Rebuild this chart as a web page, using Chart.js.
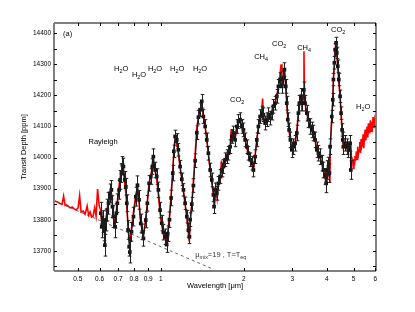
<!DOCTYPE html>
<html>
<head>
<meta charset="utf-8">
<script src="https://cdn.jsdelivr.net/npm/chart.js@4.4.1/dist/chart.umd.min.js"></script>
<style>
html, body { margin: 0; padding: 0; background: #fff; }
#grafico { display: block; }
</style>
</head>
<body>
<canvas id="grafico" width="415" height="312"></canvas>
<script>
// observed spectrum (black squares with error bars)
const wavelength = [0.606,0.611,0.618,0.623,0.627,0.632,0.640,0.646,0.655,0.662,0.668,0.673,0.683,0.690,0.696,0.706,0.712,0.720,0.726,0.732,0.741,0.747,0.753,0.761,0.768,0.772,
  0.783,0.796,0.812,0.823,0.834,0.846,0.858,0.865,0.882,0.894,0.907,0.920,0.932,0.940,0.954,0.967,0.980,0.994,
  1.008,1.022,1.037,1.050,1.060,1.075,1.090,1.105,1.115,1.127,1.143,1.158,1.175,1.192,1.208,1.225,1.243,1.259,1.270,1.277,1.295,1.313,1.332,1.351,1.369,1.388,1.408,
  1.427,1.448,1.468,1.488,1.510,1.531,1.552,1.560,1.574,1.596,1.618,1.641,1.664,1.687,1.711,1.735,1.759,1.784,1.809,1.833,1.860,1.886,1.912,1.939,1.967,1.993,
  2.022,2.051,2.078,2.108,2.138,2.167,2.198,2.229,2.259,2.291,2.324,2.355,2.389,2.423,2.456,2.491,2.527,2.561,2.597,2.634,2.670,2.708,2.746,2.783,2.807,2.839,2.863,2.887,2.919,2.951,2.985,
  3.026,3.069,3.113,3.155,3.181,3.227,3.262,3.300,3.336,3.384,3.430,3.478,3.528,3.576,3.627,3.679,3.728,3.782,3.836,3.888,3.943,3.977,
  4.000,4.054,4.087,4.111,4.169,4.204,4.225,4.260,4.286,4.321,4.346,4.383,4.420,4.468,4.505,4.544,4.570,4.593,4.658,4.726,4.789,4.858,4.886];
const depth = [13821,13777,13794,13767,13718,13799,13831,13853,13885,13896,13842,13810,13777,13821,13853,13896,13928,13950,13976,13971,13928,13906,13853,13767,13713,13696,
  13761,13810,13874,13911,13864,13788,13761,13740,13799,13853,13917,13939,13971,14003,13960,13939,13896,13831,
  13789,13760,13745,13720,13755,13800,13870,13950,14020,14068,14057,14025,13971,13930,13896,13853,13810,13766,13745,13800,13850,13910,13990,14080,14130,14154,14181,
  14132,14100,14057,14014,13960,13928,13880,13842,13896,13885,13917,13939,13960,13971,13993,14003,14014,14035,14068,14079,14057,14100,14116,14122,14100,14089,
  14057,14035,14014,13993,13982,13960,14003,14057,14100,14132,14143,14138,14111,14122,14138,14127,14143,14165,14175,14197,14229,14251,14229,14256,14283,14229,14175,14122,14089,14057,14025,
  14035,14046,14079,14143,14175,14197,14175,14218,14175,14143,14122,14100,14089,14079,14057,14025,14014,14003,13982,13960,13939,13917,
  13960,13971,13950,14035,14132,14186,14251,14305,14347,14369,14337,14294,14251,14197,14143,14089,14057,14035,14046,14035,14025,14046,13960];
const depthErr = [35,35,35,35,35,35,35,35,30,30,35,35,35,30,30,30,30,30,27,27,27,27,27,30,30,35,
  30,30,30,30,30,30,25,25,25,25,25,25,25,25,25,25,25,25,
  25,25,25,25,25,25,25,25,20,20,20,20,20,20,20,20,20,22,22,22,22,22,22,22,22,22,22,
  22,22,22,22,22,22,22,22,22,22,22,22,22,22,22,22,22,22,22,22,22,22,22,22,22,22,
  22,22,22,22,22,22,22,22,22,22,22,22,22,22,22,22,22,22,22,22,22,22,22,22,22,22,22,22,22,25,25,
  25,25,25,25,25,25,25,25,25,25,25,25,25,25,25,25,25,25,25,25,25,30,
  30,30,30,25,20,20,20,20,20,18,18,20,20,20,20,20,25,25,25,25,25,25,30];

// model spectrum (red)
const modelWavelength = [0.410,0.417,0.424,0.431,0.4386,0.4442,0.4498,0.455,0.4612,0.469,0.4769,0.485,0.4931,0.5014,0.5078,0.5141,0.5229,0.5316,0.5406,0.5474,0.5543,0.5613,0.5683,0.5754,0.5826,0.5899,0.5974,
  0.605,0.612,0.618,0.625,0.632,0.640,0.648,0.656,0.664,0.670,0.677,0.684,0.692,0.700,0.708,0.716,0.724,0.732,0.740,0.748,0.756,0.764,0.772,0.780,0.790,0.800,0.812,0.822,0.832,0.843,0.855,0.865,0.875,0.888,0.900,0.912,0.924,0.934,0.945,0.955,0.968,0.980,0.992,
  1.005,1.020,1.035,1.048,1.060,1.075,1.090,1.105,1.117,1.128,1.140,1.155,1.172,1.190,1.208,1.225,1.243,1.258,1.268,1.280,1.295,1.312,1.330,1.350,1.368,1.388,1.405,1.425,1.447,1.468,1.488,
  1.510,1.530,1.552,1.570,1.585,1.600,1.618,1.640,1.660,1.672,1.690,1.712,1.735,1.760,1.785,1.800,1.810,1.835,1.860,1.885,1.910,1.940,1.965,1.995,
  2.020,2.050,2.080,2.110,2.140,2.168,2.200,2.230,2.260,2.290,2.320,2.340,2.355,2.390,2.420,2.455,2.490,2.525,2.560,2.600,2.635,2.670,2.700,2.730,2.750,2.785,2.808,2.840,2.865,2.890,2.920,2.950,2.985,
  3.025,3.070,3.110,3.150,3.180,3.225,3.250,3.262,3.290,3.305,3.320,3.340,3.385,3.430,3.480,3.530,3.575,3.625,3.680,3.730,3.780,3.835,3.890,3.940,3.980,
  4.000,4.050,4.085,4.105,4.115,4.170,4.205,4.225,4.260,4.290,4.320,4.345,4.385,4.420,4.470,4.505,4.545,4.570,4.595,4.660,4.725,4.790,4.860,4.920,
  4.960,4.992,5.015,5.040,5.064,5.090,5.120,5.150,5.175,5.205,5.236,5.265,5.300,5.325,5.355,5.390,5.415,5.445,5.480,5.507,5.540,5.575,5.598,5.630,5.660,5.692,5.725,5.755,5.788,5.820,5.855,5.886,5.915,5.950,5.984,6.030];
const modelDepth = [13861,13859,13856,13852,13850,13876,13846,13848,13844,13838,13841,13835,13831,13838,13877,13825,13828,13818,13844,13815,13825,13809,13812,13838,13812,13899,13847,
  13830,13790,13810,13760,13800,13840,13860,13890,13880,13830,13790,13800,13840,13880,13920,13950,13965,13955,13920,13880,13820,13760,13730,13760,13800,13840,13880,13905,13870,13800,13770,13755,13780,13830,13890,13930,13950,13990,13980,13955,13925,13880,13830,
  13790,13755,13740,13730,13760,13810,13880,13960,14030,14060,14050,14020,13975,13935,13890,13850,13805,13760,13730,13790,13850,13920,14000,14090,14130,14150,14170,14140,14100,14060,14010,
  13960,13920,13880,13860,13900,13870,13920,13930,13990,13950,13975,13990,14010,14010,14040,14090,14060,14080,14060,14100,14110,14120,14100,14080,
  14060,14030,14010,13990,13975,13960,14010,14060,14100,14130,14150,14190,14130,14110,14125,14140,14130,14150,14170,14180,14200,14230,14260,14300,14235,14260,14285,14225,14170,14120,14085,14055,14030,
  14035,14050,14080,14140,14170,14195,14150,14170,14200,14342,14190,14170,14140,14120,14100,14090,14075,14055,14025,14010,14000,13980,13955,13935,13915,
  13950,13960,13935,13930,14020,14130,14190,14250,14300,14350,14375,14340,14290,14245,14195,14140,14085,14055,14030,14040,14030,14020,14040,14000,
  13990,13965,13995,13975,14005,13990,14020,13995,14035,14010,14025,14050,14015,14060,14035,14045,14075,14030,14070,14090,14055,14085,14100,14065,14110,14080,14095,14120,14085,14115,14100,14130,14095,14120,14105,14125];

// Rayleigh slope reference (dashed)
const rayleighWavelength = [0.41, 1.52];
const rayleighDepth = [13861, 13644];

// axes
const wavelengthTicks = [0.5, 0.6, 0.7, 0.8, 0.9, 1, 2, 3, 4, 5, 6];
const depthTicks = [13700, 13800, 13900, 14000, 14100, 14200, 14300, 14400];

// molecule labels, anchored in data units
const speciesNames = ['H2O', 'H2O', 'H2O', 'H2O', 'H2O', 'CO2', 'CH4', 'CO2', 'CH4', 'CO2', 'H2O'];
const speciesWavelength = [0.718, 0.834, 0.953, 1.146, 1.388, 1.891, 2.310, 2.685, 3.309, 4.395, 5.415];
const speciesDepth = [14286, 14267, 14286, 14286, 14286, 14186, 14325, 14367, 14354, 14412, 14164];

const fonte = '"Liberation Sans", Arial, Helvetica, sans-serif';

function pares(xs, ys) {
    return xs.map((x, i) => ({ x: x, y: ys[i] }));
}

// draws text where digits (or given parts) are subscripts
function textoQuimico(ctx, partes, x, y, align, size) {
    let largura = 0;
    partes.forEach(p => {
        ctx.font = (p.sub ? size * 0.72 : size) + 'px ' + fonte;
        largura += ctx.measureText(p.t).width;
    });
    let cx = align === 'center' ? x - largura / 2 : x;
    ctx.textAlign = 'left';
    ctx.textBaseline = 'middle';
    partes.forEach(p => {
        ctx.font = (p.sub ? size * 0.72 : size) + 'px ' + fonte;
        ctx.fillText(p.t, cx, p.sub ? y + size * 0.38 : y);
        cx += ctx.measureText(p.t).width;
    });
}

function formula(nome) {
    return nome.split('').map(c => ({ t: c, sub: /[0-9]/.test(c) }));
}

const molduraPlugin = {
    id: 'moldura',
    afterDatasetsDraw(chart) {
        const ctx = chart.ctx;
        const xs = chart.scales.x, ys = chart.scales.y;
        ctx.save();
        ctx.strokeStyle = '#1e1e1e';
        ctx.lineWidth = 1;
        wavelength.forEach((w, i) => {
            const px = Math.round(xs.getPixelForValue(w)) + 0.5;
            const yTop = ys.getPixelForValue(depth[i] + depthErr[i]);
            const yBot = ys.getPixelForValue(depth[i] - depthErr[i]);
            ctx.beginPath();
            ctx.moveTo(px, yTop); ctx.lineTo(px, yBot);
            ctx.moveTo(px - 1.8, yTop); ctx.lineTo(px + 1.8, yTop);
            ctx.moveTo(px - 1.8, yBot); ctx.lineTo(px + 1.8, yBot);
            ctx.stroke();
        });
        ctx.restore();
    },
    afterDraw(chart) {
        const ctx = chart.ctx;
        const a = chart.chartArea;
        const xs = chart.scales.x, ys = chart.scales.y;
        ctx.save();
        // frame
        ctx.strokeStyle = '#000';
        ctx.lineWidth = 1.2;
        ctx.beginPath();
        ctx.moveTo(a.left, a.top); ctx.lineTo(a.right, a.top);
        ctx.moveTo(a.left, a.bottom); ctx.lineTo(a.right, a.bottom);
        ctx.stroke();
        ctx.strokeStyle = '#808080';
        ctx.lineWidth = 2;
        ctx.beginPath();
        ctx.moveTo(a.left, a.top); ctx.lineTo(a.left, a.bottom);
        ctx.moveTo(a.right, a.top); ctx.lineTo(a.right, a.bottom);
        ctx.stroke();

        // inward ticks
        ctx.strokeStyle = '#000';
        ctx.lineWidth = 1;
        ctx.beginPath();
        wavelengthTicks.forEach(v => {
            const px = Math.round(xs.getPixelForValue(v)) + 0.5;
            ctx.moveTo(px, a.top); ctx.lineTo(px, a.top + 3);
            ctx.moveTo(px, a.bottom); ctx.lineTo(px, a.bottom - 3);
        });
        const yMarks = [];
        depthTicks.forEach(v => { yMarks.push(v); yMarks.push(v - 50); });
        yMarks.push(14400 + 50);
        yMarks.forEach(v => {
            if (v < ys.min || v > ys.max) return;
            const py = Math.round(ys.getPixelForValue(v)) + 0.5;
            ctx.moveTo(a.left, py); ctx.lineTo(a.left + 3, py);
            ctx.moveTo(a.right, py); ctx.lineTo(a.right - 3, py);
        });
        ctx.stroke();

        // axis titles
        ctx.fillStyle = '#000';
        ctx.font = '7.5px ' + fonte;
        ctx.textAlign = 'center';
        ctx.textBaseline = 'middle';
        ctx.fillText('Wavelength [\u03bcm]', (a.left + a.right) / 2, 286);
        ctx.save();
        ctx.translate(24, (a.top + a.bottom) / 2);
        ctx.rotate(-Math.PI / 2);
        ctx.fillText('Transit Depth [ppm]', 0, 0);
        ctx.restore();

        // annotations
        ctx.font = '7.5px ' + fonte;
        ctx.textAlign = 'left';
        ctx.fillText('(a)', xs.getPixelForValue(0.4423), ys.getPixelForValue(14399));
        ctx.textAlign = 'center';
        ctx.fillText('Rayleigh', xs.getPixelForValue(0.6177), ys.getPixelForValue(14051));
        speciesNames.forEach((nome, i) => {
            textoQuimico(ctx, formula(nome), xs.getPixelForValue(speciesWavelength[i]), ys.getPixelForValue(speciesDepth[i]), 'center', 7.5);
        });
        ctx.fillStyle = '#333';
        textoQuimico(ctx, [
            { t: '\u03bc', sub: false }, { t: 'mix', sub: true }, { t: '=19 , T=T', sub: false }, { t: 'eq', sub: true }
        ], xs.getPixelForValue(1.332), ys.getPixelForValue(13688), 'left', 7.5);
        ctx.restore();
    }
};

const config = {
    type: 'scatter',
    data: {
        datasets: [{
            label: 'data',
            data: pares(wavelength, depth),
            showLine: true,
            borderColor: '#111',
            borderWidth: 1,
            backgroundColor: '#111',
            pointStyle: 'rect',
            pointRadius: 2.6,
            pointBorderWidth: 0,
            order: 0
        }, {
            label: 'model',
            data: pares(modelWavelength, modelDepth),
            showLine: true,
            borderColor: '#ff0000',
            borderWidth: 1.6,
            pointRadius: 0,
            order: 1
        }, {
            label: 'rayleigh',
            data: pares(rayleighWavelength, rayleighDepth),
            showLine: true,
            borderColor: '#555',
            borderWidth: 0.9,
            borderDash: [3, 3],
            pointRadius: 0,
            order: 2
        }]
    },
    options: {
        responsive: false,
        animation: false,
        devicePixelRatio: 1,
        layout: { padding: { top: 23, right: 39, left: 0, bottom: 0 } },
        plugins: { legend: { display: false }, tooltip: { enabled: false } },
        scales: {
            x: {
                type: 'logarithmic',
                min: 0.41,
                max: 6.03,
                grid: { display: false, drawTicks: false },
                border: { display: false },
                afterBuildTicks: (scale) => { scale.ticks = wavelengthTicks.map(v => ({ value: v })); },
                afterFit: (scale) => { scale.height = 41; },
                ticks: {
                    autoSkip: false,
                    maxRotation: 0,
                    padding: 4,
                    color: '#000',
                    font: { family: fonte, size: 6.5 },
                    callback: (v) => String(v)
                }
            },
            y: {
                min: 13635,
                max: 14433,
                grid: { display: false, drawTicks: false },
                border: { display: false },
                afterBuildTicks: (scale) => { scale.ticks = depthTicks.map(v => ({ value: v })); },
                afterFit: (scale) => { scale.width = 54; },
                ticks: {
                    padding: 3,
                    color: '#000',
                    font: { family: fonte, size: 6.5 },
                    callback: (v) => String(v)
                }
            }
        }
    },
    plugins: [molduraPlugin]
};

const ctx = document.getElementById('grafico').getContext('2d');
new Chart(ctx, config);
</script>
</body>
</html>
